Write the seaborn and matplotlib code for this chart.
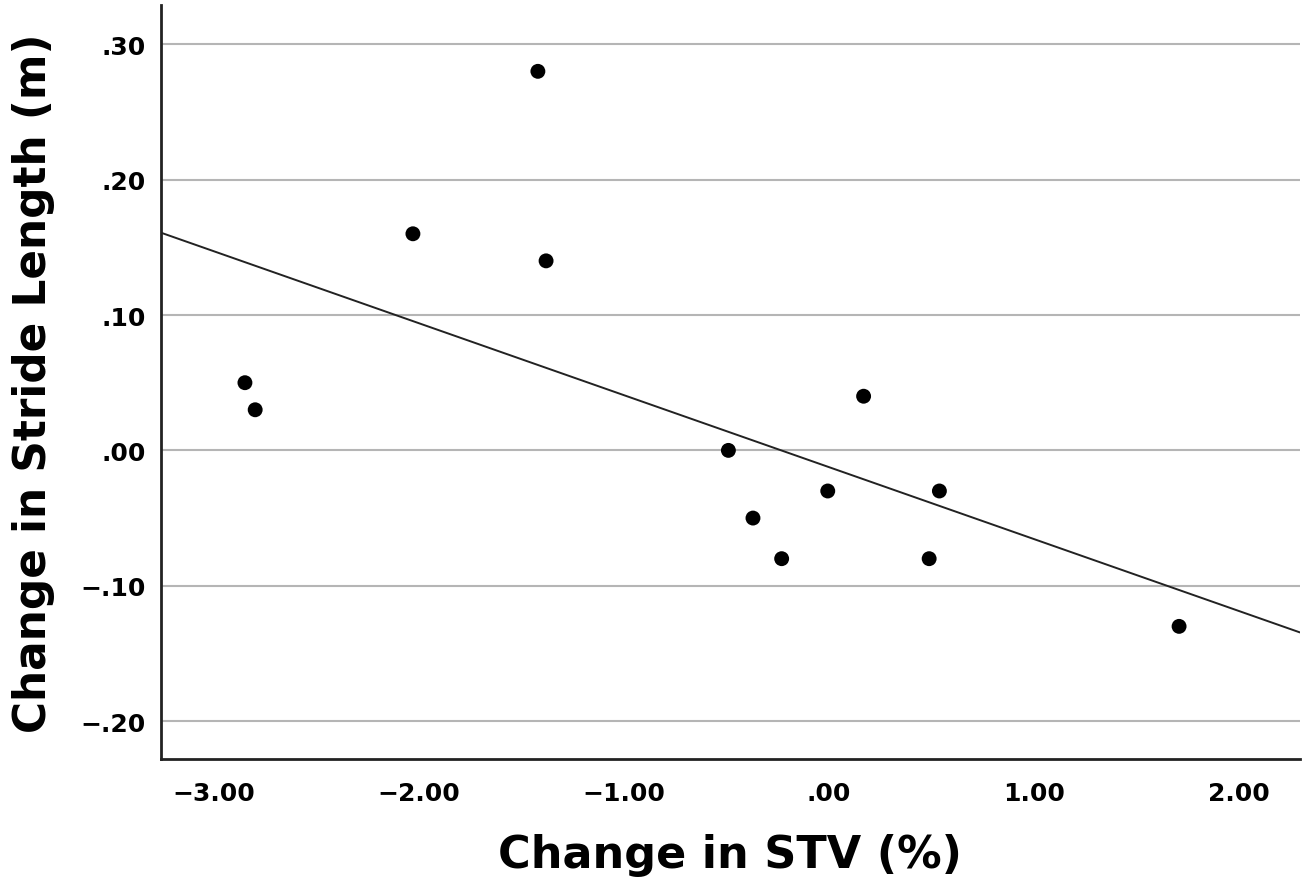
import matplotlib
matplotlib.use("Agg")
import matplotlib.pyplot as plt
import seaborn as sns
import numpy as np
import pandas as pd
from matplotlib.ticker import FuncFormatter

stv_change = [-2.85, -2.80, -2.03, -1.42, -1.38, -0.49, -0.37, -0.23, -0.005, 0.17, 0.49, 0.54, 1.71]
stride_change = [0.05, 0.03, 0.16, 0.28, 0.14, 0.00, -0.05, -0.08, -0.03, 0.04, -0.08, -0.03, -0.13]
x_ticks = [-3.0, -2.0, -1.0, 0.0, 1.0, 2.0]
y_ticks = [-0.20, -0.10, 0.00, 0.10, 0.20, 0.30]

df = pd.DataFrame({"stv": stv_change, "stride": stride_change})

sns.set_theme(style="white")
plt.rcParams['font.family'] = ['DejaVu Sans']
plt.rcParams['text.color'] = 'black'
plt.rcParams['axes.labelcolor'] = 'black'
plt.rcParams['xtick.color'] = 'black'
plt.rcParams['ytick.color'] = 'black'

fig = plt.figure(figsize=(13.16, 8.95), dpi=100)
ax = fig.add_axes([0.1223, 0.1508, 0.8655, 0.8425])

ax.set_xlim(-3.26, 2.30)
ax.set_ylim(-0.228, 0.329)

for yt in y_ticks:
    ax.axhline(yt, color="#b5b5b5", lw=1.5, zorder=0)

sns.regplot(data=df, x="stv", y="stride", ax=ax, ci=None, truncate=False,
            scatter_kws=dict(s=115, color="black", edgecolor="none", alpha=1, zorder=3),
            line_kws=dict(color="#222222", lw=1.4, zorder=2))

def fmt(v, pos):
    s = f"{v:.2f}"
    if abs(v) < 1:
        s = s.replace("0.", ".", 1)
    if s.startswith("-"):
        s = "\u2212" + s[1:]
    if s == "\u2212.00":
        s = ".00"
    return s

ax.set_xticks(x_ticks)
ax.set_yticks(y_ticks)
ax.xaxis.set_major_formatter(FuncFormatter(fmt))
ax.yaxis.set_major_formatter(FuncFormatter(fmt))
ax.tick_params(axis="both", length=0, labelsize=18, labelcolor="black")
ax.tick_params(axis="x", pad=16)
ax.tick_params(axis="y", pad=11)
for lab in ax.get_xticklabels() + ax.get_yticklabels():
    lab.set_fontweight("bold")

for side in ["top", "right"]:
    ax.spines[side].set_visible(False)
for side in ["left", "bottom"]:
    ax.spines[side].set_color("#222222")
    ax.spines[side].set_linewidth(2)

ax.set_xlabel("Change in STV (%)", fontsize=32, fontweight="bold", labelpad=20, color="black")
ax.set_ylabel("Change in Stride Length (m)", fontsize=31.5, fontweight="bold", labelpad=18, color="black")

fig.savefig("out.png", dpi=100)
